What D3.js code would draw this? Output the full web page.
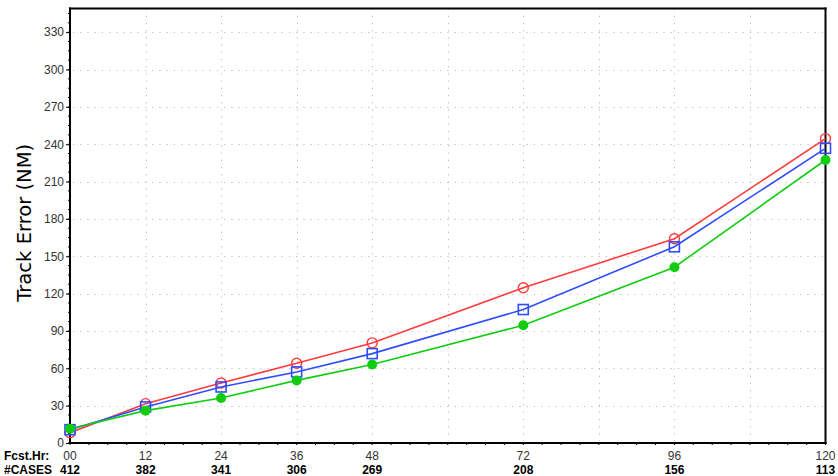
<!DOCTYPE html>
<html>
<head>
<meta charset="utf-8">
<script src="https://cdn.jsdelivr.net/npm/d3@7"></script>
<style>
  html, body { margin: 0; padding: 0; background: #fff; }
  svg { display: block; }
</style>
</head>
<body>
<svg id="chart" width="838" height="476"></svg>
<script>
// Forecast hours and verification counts
const fcstHours = [0, 12, 24, 36, 48, 72, 96, 120];
const hourLabels = ["00", "12", "24", "36", "48", "72", "96", "120"];
const caseCounts = ["412", "382", "341", "306", "269", "208", "156", "113"];

// Mean track errors (NM) per model
const redErrors   = [8.3, 31.6, 48.2, 64.0, 80.4, 124.7, 164.1, 244.5];
const blueErrors  = [10.7, 29.0, 45.0, 57.1, 71.8, 107.2, 157.6, 236.7];
const greenErrors = [11.5, 26.0, 36.2, 50.3, 63.0, 94.6, 141.2, 227.3];

const yTicks = [0, 30, 60, 90, 120, 150, 180, 210, 240, 270, 300, 330];
const xGrid = [12, 24, 36, 48, 60, 72, 84, 96, 108];

const svg = d3.select("#chart");
const plotL = 70, plotR = 825.5, plotT = 8.5, plotB = 443;

const x = d3.scaleLinear().domain([0, 120]).range([plotL, plotR]);
const y = d3.scaleLinear().domain([0, 349]).range([plotB, plotT]);

// Dotted grid
const grid = svg.append("g").attr("stroke", "#bbb").attr("stroke-width", 1)
  .attr("stroke-dasharray", "1.2,6");
grid.selectAll("line.h").data(yTicks.filter(d => d > 0)).join("line")
  .attr("class", "h")
  .attr("x1", plotL + 3).attr("x2", plotR)
  .attr("y1", d => Math.round(y(d)) + 0.5).attr("y2", d => Math.round(y(d)) + 0.5);
grid.selectAll("line.v").data(xGrid).join("line")
  .attr("class", "v")
  .attr("x1", d => Math.round(x(d)) + 0.5).attr("x2", d => Math.round(x(d)) + 0.5)
  .attr("y1", plotT).attr("y2", plotB - 2);

// Y axis with labels
const yAxis = d3.axisLeft(y).tickValues(yTicks).tickSize(4).tickPadding(2)
  .tickFormat(d3.format("d"));
const ya = svg.append("g").attr("transform", `translate(${plotL},0)`).call(yAxis);
ya.select(".domain").remove();
ya.selectAll("text").attr("font-family", "Liberation Sans, Arial, sans-serif")
  .attr("font-size", 12).attr("fill", "#333");
ya.selectAll("line").attr("stroke", "#000");

// Minor ticks along the left and bottom axes
const minorY = d3.range(0, 350, 7.5);
svg.append("g").selectAll("line").data(minorY).join("line")
  .attr("x1", plotL - 2).attr("x2", plotL)
  .attr("y1", d => y(d)).attr("y2", d => y(d))
  .attr("stroke", "#000");
const minorX = d3.range(0, 121, 3);
svg.append("g").selectAll("line").data(minorX).join("line")
  .attr("x1", d => x(d)).attr("x2", d => x(d))
  .attr("y1", plotB).attr("y2", plotB + 2)
  .attr("stroke", "#000");

// Frame
const frame = svg.append("g").attr("stroke", "#000").attr("stroke-width", 2);
frame.append("line").attr("x1", plotL).attr("x2", plotL).attr("y1", plotT - 1).attr("y2", plotB + 1);
frame.append("line").attr("x1", plotL - 1).attr("x2", plotR + 1).attr("y1", plotB).attr("y2", plotB);
frame.append("line").attr("x1", plotL - 1).attr("x2", plotR + 1).attr("y1", plotT).attr("y2", plotT);
frame.append("line").attr("x1", plotR).attr("x2", plotR).attr("y1", plotT - 1).attr("y2", plotB + 1);

// Y axis title
svg.append("text")
  .attr("transform", `translate(31,${(plotT + plotB) / 2 - 3}) rotate(-90)`)
  .attr("text-anchor", "middle")
  .attr("font-family", "DejaVu Sans, sans-serif")
  .attr("font-size", 20).attr("fill", "#000")
  .attr("textLength", 158).attr("lengthAdjust", "spacingAndGlyphs")
  .text("Track Error (NM)");

// Bottom labels: forecast hours and case counts
const lblFont = "Liberation Sans, Arial, sans-serif";
svg.append("text").attr("x", 4).attr("y", 460).attr("font-family", lblFont)
  .attr("font-size", 12).attr("font-weight", "bold").text("Fcst.Hr:");
svg.append("text").attr("x", 4).attr("y", 474).attr("font-family", lblFont)
  .attr("font-size", 12).attr("font-weight", "bold").text("#CASES");
svg.append("g").selectAll("text").data(fcstHours).join("text")
  .attr("x", d => x(d)).attr("y", 460).attr("text-anchor", "middle")
  .attr("font-family", lblFont).attr("font-size", 12).attr("fill", "#333")
  .text((d, i) => hourLabels[i]);
svg.append("g").selectAll("text").data(fcstHours).join("text")
  .attr("x", d => x(d)).attr("y", 474).attr("text-anchor", "middle")
  .attr("font-family", lblFont).attr("font-size", 12).attr("font-weight", "bold")
  .text((d, i) => caseCounts[i]);

// Series
const series = [
  { values: redErrors, color: "#ff3b3b", marker: "circle" },
  { values: blueErrors, color: "#2e4dff", marker: "square" },
  { values: greenErrors, color: "#11cc11", marker: "dot" }
];
const line = d3.line().x((d, i) => x(fcstHours[i])).y(d => y(d));

series.forEach(s => {
  const g = svg.append("g");
  g.append("path").datum(s.values).attr("d", line)
    .attr("fill", "none").attr("stroke", s.color).attr("stroke-width", 1.6);
  if (s.marker === "circle") {
    g.selectAll("circle").data(s.values).join("circle")
      .attr("cx", (d, i) => x(fcstHours[i])).attr("cy", d => y(d)).attr("r", 5)
      .attr("fill", "none").attr("stroke", s.color).attr("stroke-width", 1.4);
  } else if (s.marker === "square") {
    g.selectAll("rect").data(s.values).join("rect")
      .attr("x", (d, i) => x(fcstHours[i]) - 5).attr("y", d => y(d) - 5)
      .attr("width", 10).attr("height", 10)
      .attr("fill", "none").attr("stroke", s.color).attr("stroke-width", 1.6);
  } else {
    g.selectAll("circle").data(s.values).join("circle")
      .attr("cx", (d, i) => x(fcstHours[i])).attr("cy", d => y(d)).attr("r", 5)
      .attr("fill", s.color);
  }
});
</script>
</body>
</html>
